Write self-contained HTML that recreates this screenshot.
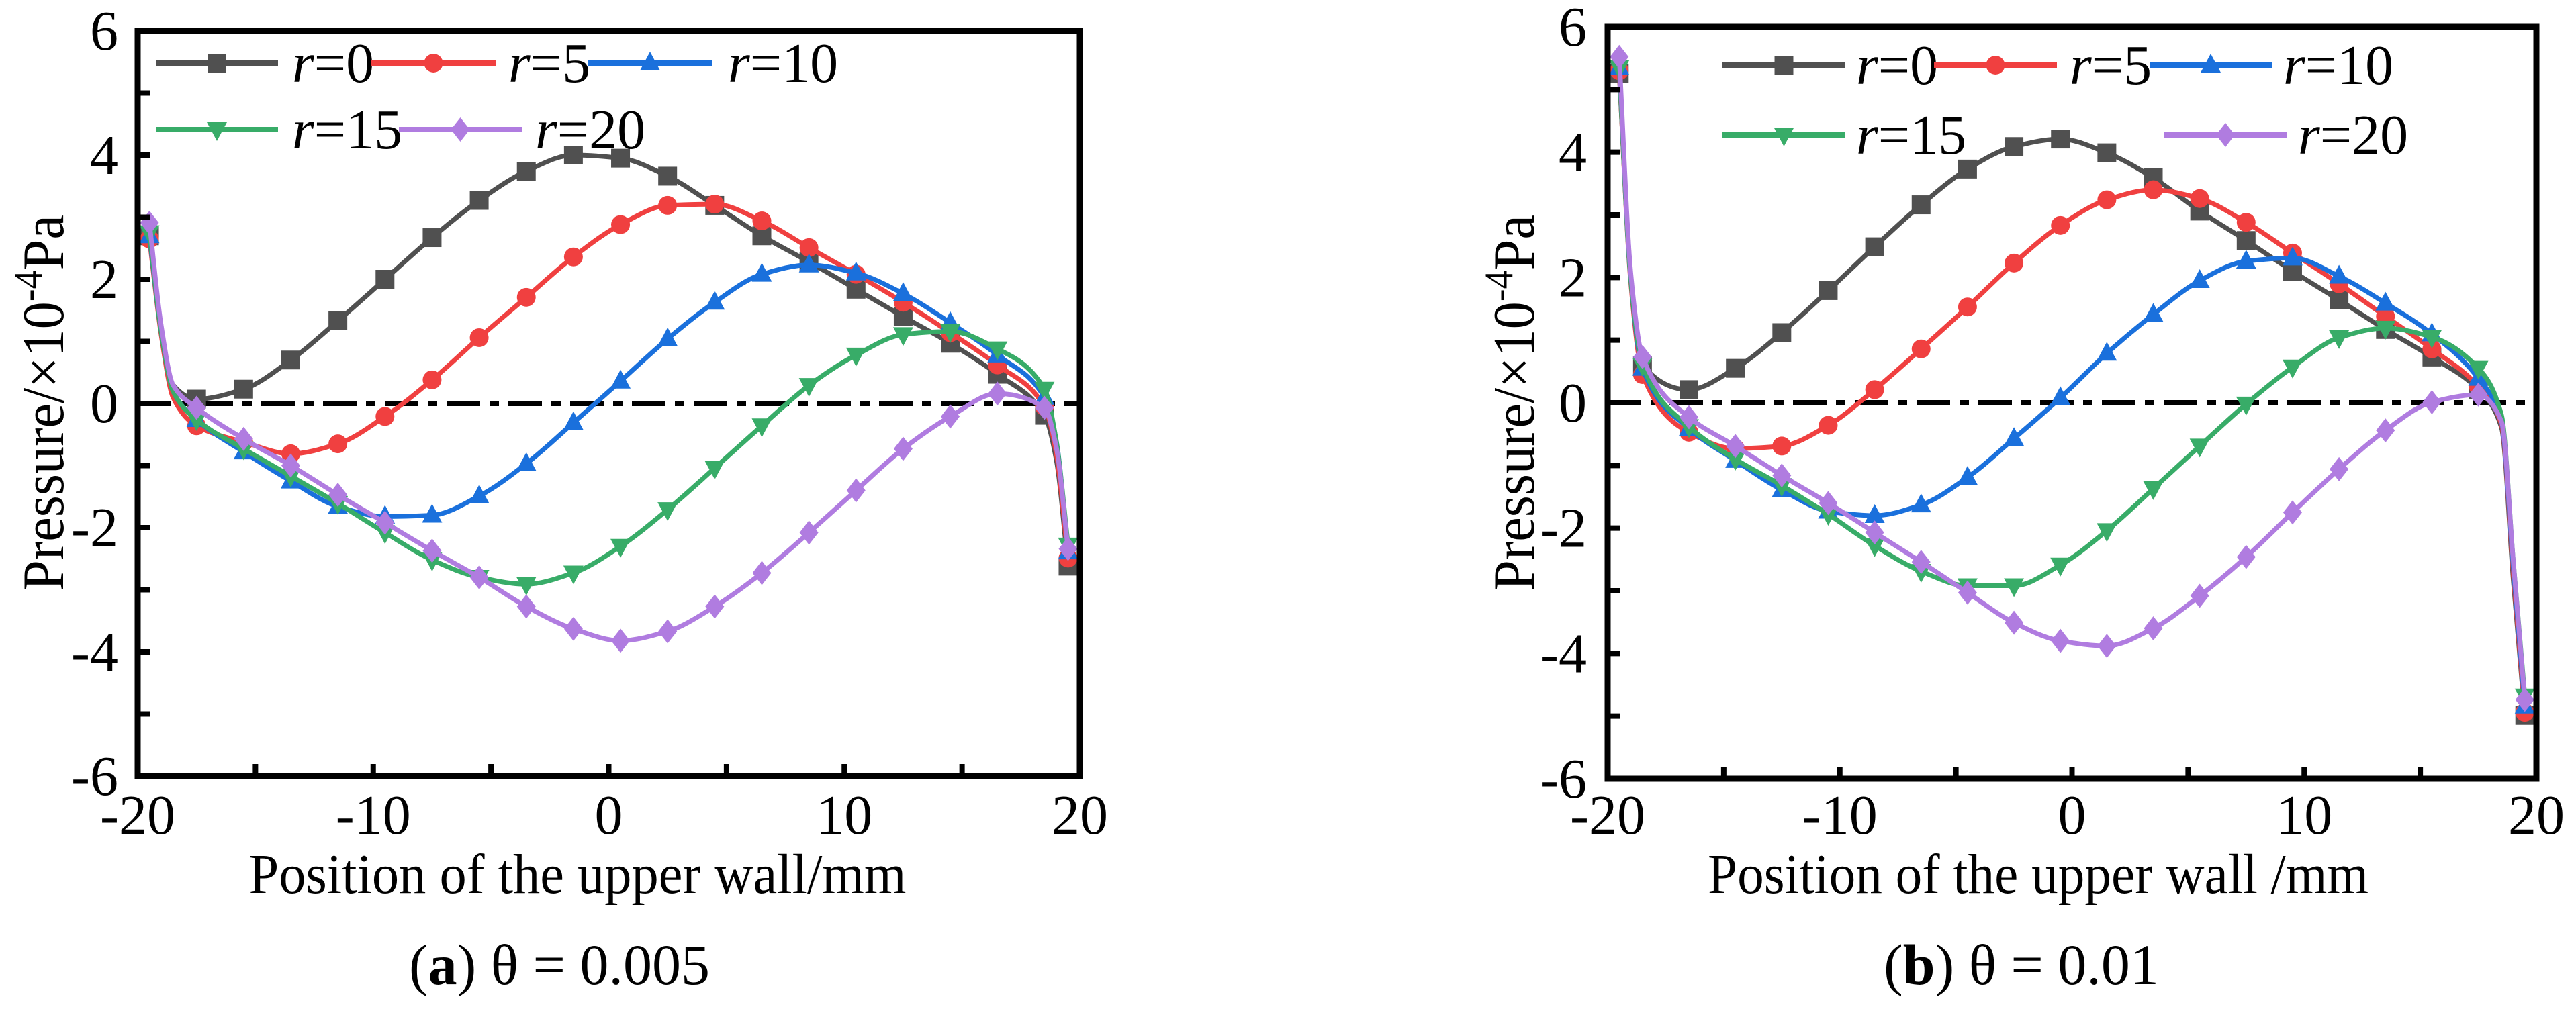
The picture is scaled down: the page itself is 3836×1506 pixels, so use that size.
<!DOCTYPE html>
<html lang="en"><head><meta charset="utf-8">
<style>
html,body{margin:0;padding:0;background:#fff;}
svg{display:block;}
svg text{font-family:"Liberation Serif","Noto Serif CJK SC",serif;}
</style></head>
<body>
<svg id="fig" width="3836" height="1506" viewBox="0 0 3836 1506" xmlns="http://www.w3.org/2000/svg"></svg>
<script>
// ---- data ----
const seriesLabels = ["r=0","r=5","r=10","r=15","r=20"];
const seriesKeys = ["0","5","10","15","20"];
const xTicks = [-20,-10,0,10,20];
const yTicks = [-6,-4,-2,0,2,4,6];

// Panel (a): theta = 0.005
const aX = [-19.5,-19,-18.5,-17.5,-15.5,-13.5,-11.5,-9.5,-7.5,-5.5,-3.5,-1.5,0.5,2.5,4.5,6.5,8.5,10.5,12.5,14.5,16.5,18.5,19,19.5];
const aMarked = [-19.5,-17.5,-15.5,-13.5,-11.5,-9.5,-7.5,-5.5,-3.5,-1.5,0.5,2.5,4.5,6.5,8.5,10.5,12.5,14.5,16.5,18.5,19.5];
const aR0  = [2.7,1.2,0.3,0.07,0.23,0.7,1.33,2.0,2.67,3.27,3.74,4.0,3.95,3.66,3.19,2.7,2.28,1.84,1.40,0.97,0.47,-0.19,-0.9,-2.62];
const aR5  = [2.65,1.1,0.1,-0.36,-0.62,-0.81,-0.65,-0.21,0.38,1.06,1.71,2.36,2.88,3.19,3.21,2.94,2.51,2.08,1.63,1.14,0.62,-0.05,-0.8,-2.49];
const aR10 = [2.7,1.15,0.2,-0.26,-0.78,-1.25,-1.66,-1.82,-1.8,-1.49,-0.97,-0.31,0.36,1.04,1.63,2.08,2.23,2.1,1.77,1.3,0.78,0.1,-0.6,-2.39];
const aR15 = [2.75,1.15,0.2,-0.26,-0.73,-1.17,-1.61,-2.08,-2.52,-2.8,-2.91,-2.73,-2.3,-1.71,-1.04,-0.36,0.29,0.78,1.11,1.16,0.88,0.23,-0.6,-2.28];
const aR20 = [2.91,1.25,0.3,-0.07,-0.57,-1.0,-1.47,-1.92,-2.37,-2.8,-3.27,-3.63,-3.82,-3.67,-3.27,-2.73,-2.08,-1.4,-0.73,-0.21,0.16,-0.07,-0.7,-2.34];

// Panel (b): theta = 0.01
const bX = [-19.5,-19,-18.5,-16.5,-14.5,-12.5,-10.5,-8.5,-6.5,-4.5,-2.5,-0.5,1.5,3.5,5.5,7.5,9.5,11.5,13.5,15.5,17.5,18.5,19,19.5];
const bMarked = [-19.5,-18.5,-16.5,-14.5,-12.5,-10.5,-8.5,-6.5,-4.5,-2.5,-0.5,1.5,3.5,5.5,7.5,9.5,11.5,13.5,15.5,17.5,19.5];
const bR0  = [5.26,2.0,0.6,0.21,0.55,1.12,1.79,2.49,3.16,3.73,4.09,4.21,3.99,3.59,3.06,2.59,2.1,1.64,1.17,0.73,0.21,-0.4,-2.8,-4.99];
const bR5  = [5.3,1.9,0.45,-0.47,-0.73,-0.69,-0.36,0.21,0.86,1.53,2.23,2.83,3.24,3.4,3.26,2.88,2.39,1.9,1.38,0.86,0.26,-0.35,-2.7,-4.94];
const bR10 = [5.35,1.95,0.55,-0.41,-0.92,-1.39,-1.73,-1.8,-1.63,-1.19,-0.57,0.08,0.79,1.41,1.95,2.26,2.31,2.02,1.59,1.1,0.39,-0.3,-2.6,-4.84];
const bR15 = [5.35,1.95,0.6,-0.38,-0.9,-1.32,-1.78,-2.28,-2.69,-2.92,-2.92,-2.59,-2.04,-1.37,-0.69,-0.02,0.57,1.04,1.19,1.05,0.55,-0.2,-2.5,-4.68];
const bR20 = [5.52,2.05,0.73,-0.23,-0.69,-1.16,-1.6,-2.07,-2.54,-3.03,-3.51,-3.8,-3.88,-3.6,-3.08,-2.46,-1.75,-1.06,-0.44,0.01,0.13,-0.3,-2.5,-4.74];

const colors = ["#505050","#f04040","#1a70dc","#38ac68","#b07ce0"];
const markers = ["square","circle","triangle","invtriangle","diamond"];

const NS = "http://www.w3.org/2000/svg";
const svg = document.getElementById("fig");
function mk(tag, attrs, parent){
  const e = document.createElementNS(NS, tag);
  for (const k in attrs) e.setAttribute(k, attrs[k]);
  if (tag === "text") e.setAttribute("style", "font-family:'Liberation Serif','Noto Serif CJK SC',serif");
  (parent||svg).appendChild(e);
  return e;
}

function monoPath(px, py){
  const n = px.length;
  const d = [], m = new Array(n);
  for (let i=0;i<n-1;i++) d.push((py[i+1]-py[i])/(px[i+1]-px[i]));
  m[0]=d[0]; m[n-1]=d[n-2];
  for (let i=1;i<n-1;i++){
    if (d[i-1]*d[i] <= 0) m[i]=0;
    else { const w1=2*(px[i+1]-px[i])+(px[i]-px[i-1]), w2=(px[i+1]-px[i])+2*(px[i]-px[i-1]);
      m[i]=(w1+w2)/(w1/d[i-1]+w2/d[i]); }
  }
  let s = "M"+px[0].toFixed(1)+","+py[0].toFixed(1);
  for (let i=0;i<n-1;i++){
    const h = px[i+1]-px[i];
    s += " C"+(px[i]+h/3).toFixed(1)+","+(py[i]+m[i]*h/3).toFixed(1)+" "+(px[i+1]-h/3).toFixed(1)+","+(py[i+1]-m[i+1]*h/3).toFixed(1)+" "+px[i+1].toFixed(1)+","+py[i+1].toFixed(1);
  }
  return s;
}

function drawMarker(g, type, cx, cy, color){
  let e;
  if (type==="square") e = mk("rect",{x:cx-14,y:cy-14,width:28,height:28,fill:color},g);
  else if (type==="circle") e = mk("circle",{cx:cx,cy:cy,r:14,fill:color},g);
  else if (type==="triangle") e = mk("polygon",{points:`${cx},${cy-17} ${cx+15},${cy+11} ${cx-15},${cy+11}`,fill:color},g);
  else if (type==="invtriangle") e = mk("polygon",{points:`${cx},${cy+17} ${cx+15},${cy-11} ${cx-15},${cy-11}`,fill:color},g);
  else e = mk("polygon",{points:`${cx},${cy-18} ${cx+14},${cy} ${cx},${cy+18} ${cx-14},${cy}`,fill:color},g);
  
  
}

function panel(cfg){
  const {id,L,R,T,B,xs,marked,series,legend,yLabelRight,yTitleX,yTitleLen,xTitleX,xTitleLen,xTitleText,capX,capLetter,capText} = cfg;
  const g = mk("g",{});
  
  
  const sx = v => L + (v+20)/40*(R-L);
  const sy = v => T + (6-v)/12*(B-T);

  const z = mk("line",{x1:L,x2:R,y1:sy(0),y2:sy(0),stroke:"#000","stroke-width":8,"stroke-dasharray":"50 14 14 14"},g);
  
  

  series.forEach((vals,si)=>{
    const sg = mk("g",{},g);
    
    
    const px = xs.map(sx), py = vals.map(sy);
    const p = mk("path",{d:monoPath(px,py),fill:"none",stroke:colors[si],"stroke-width":7,"stroke-linejoin":"round"},sg);
    
    
    xs.forEach((x,i)=>{
      if (marked.indexOf(x) >= 0) drawMarker(sg, markers[si], sx(x), sy(vals[i]), colors[si]);
    });
  });

  const fr = mk("rect",{x:L,y:T,width:R-L,height:B-T,fill:"none",stroke:"#000","stroke-width":9},g);
  
  

  for (let v=-6; v<=6; v++){
    const t = mk("line",{x1:L,x2:L+18,y1:sy(v),y2:sy(v),stroke:"#000","stroke-width":8},g);
    
    
  }
  yTicks.forEach(v=>{
    const t = mk("text",{x:yLabelRight,y:sy(v)+28,"text-anchor":"end","font-size":84},g);
    t.textContent = String(v);
    
    
  });
  for (let v=-20; v<=20; v+=5){
    const t = mk("line",{x1:sx(v),x2:sx(v),y1:B,y2:B-18,stroke:"#000","stroke-width":8},g);
    
    
  }
  xTicks.forEach(v=>{
    const t = mk("text",{x:sx(v),y:1242,"text-anchor":"middle","font-size":84},g);
    t.textContent = String(v);
    
    
  });

  const yt = mk("text",{x:0,y:0,"text-anchor":"middle","font-size":88,transform:`translate(${yTitleX},600) rotate(-90)`,textLength:yTitleLen,lengthAdjust:"spacingAndGlyphs"},g);
  yt.innerHTML = 'Pressure/×10<tspan dy="-32" font-size="60">-4</tspan><tspan dy="32">Pa</tspan>';
  
  
  const xt = mk("text",{x:xTitleX,y:1330,"text-anchor":"middle","font-size":84,textLength:xTitleLen,lengthAdjust:"spacingAndGlyphs"},g);
  xt.textContent = xTitleText;
  
  
  const cp = mk("text",{x:capX,y:1466,"text-anchor":"middle","font-size":86},g);
  cp.innerHTML = '(<tspan font-weight="bold">'+capLetter+'</tspan>) '+capText;
  
  

  legend.forEach((lg,si)=>{
    const le = mk("g",{},g);
    
    
    const [x1,x2,tx,y] = lg;
    mk("line",{x1:x1,x2:x2,y1:y,y2:y,stroke:colors[si],"stroke-width":8},le);
    drawMarker(le, markers[si], (x1+x2)/2, y, colors[si]);
    const t = mk("text",{x:tx,y:y+28,"font-size":84},le);
    t.innerHTML = '<tspan font-style="italic">r</tspan>=' + seriesLabels[si].slice(2);
  });
}

panel({id:"panel-a",L:205,R:1608,T:46,B:1156,xs:aX,marked:aMarked,
  series:[aR0,aR5,aR10,aR15,aR20],
  legend:[[232,414,435,94],[553,738,757,94],[876,1060,1084,94],[232,414,435,193],[594,777,797,193]],
  yLabelRight:176,yTitleX:94,yTitleLen:560,xTitleX:860,xTitleLen:979,xTitleText:"Position of the upper wall/mm",
  capX:833,capLetter:"a",capText:"θ = 0.005"});
panel({id:"panel-b",L:2394,R:3777,T:40,B:1160,xs:bX,marked:bMarked,
  series:[bR0,bR5,bR10,bR15,bR20],
  legend:[[2565,2748,2764,97],[2880,3063,3082,97],[3201,3383,3400,97],[2565,2748,2764,201],[3223,3405,3422,201]],
  yLabelRight:2363,yTitleX:2284,yTitleLen:560,xTitleX:3035,xTitleLen:984,xTitleText:"Position of the upper wall /mm",
  capX:3010,capLetter:"b",capText:"θ = 0.01"});
</script>
</body></html>
